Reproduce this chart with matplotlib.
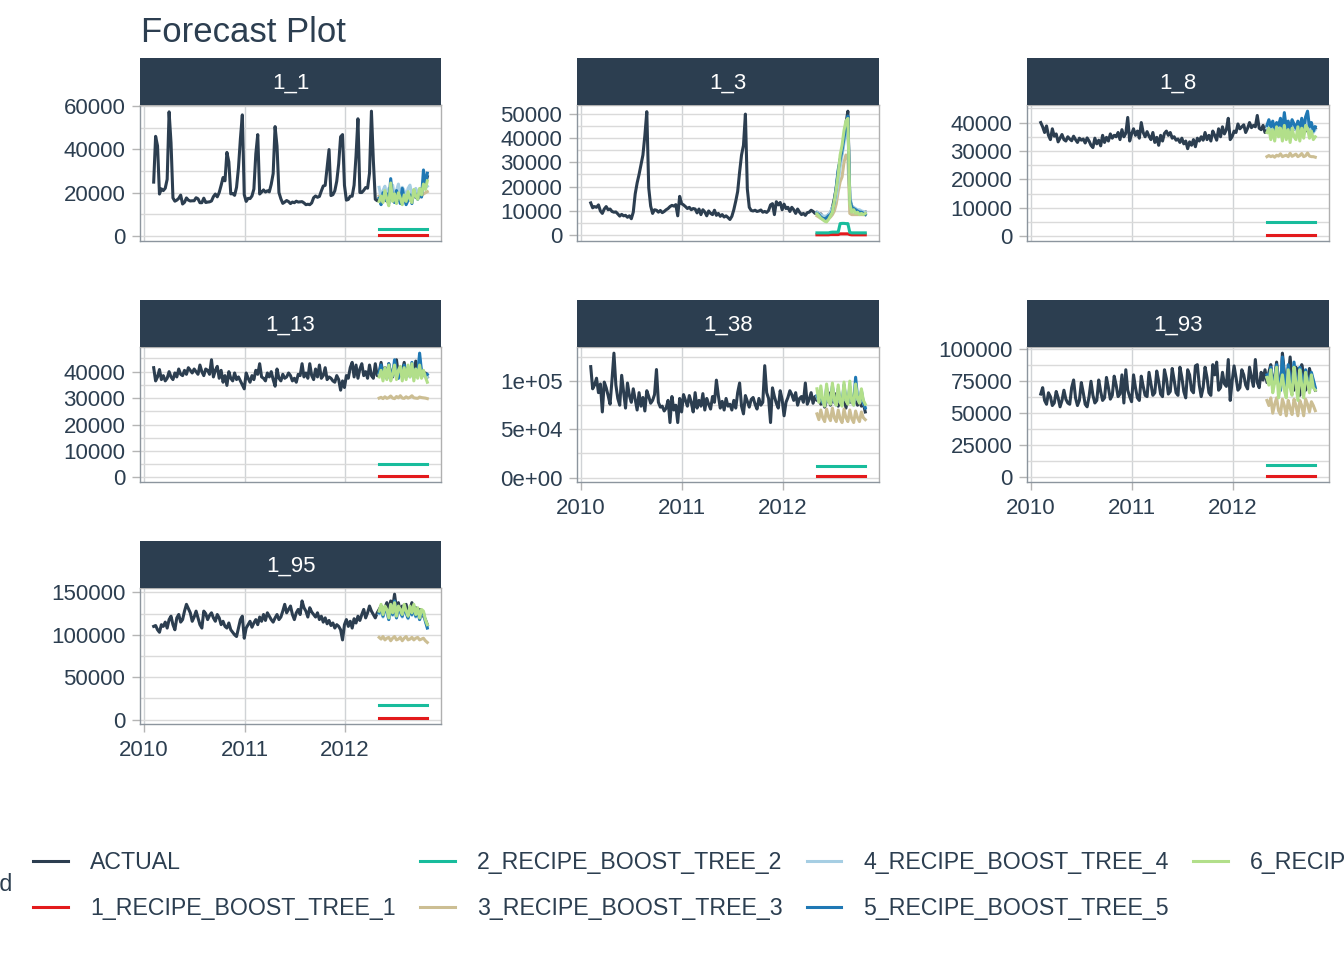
import matplotlib
matplotlib.use("Agg")
import matplotlib.pyplot as plt
import matplotlib.dates as mdates
from matplotlib.lines import Line2D
from matplotlib.ticker import MultipleLocator
import numpy as np
import pandas as pd

plt.rcParams['font.family'] = ['Liberation Sans', 'DejaVu Sans']

DARK = '#2C3E50'
GRID = '#DADADA'

# weekly index of the series and of the forecast (test) window
weeks = pd.date_range('2010-02-05', '2012-10-26', freq='W-FRI')
fc_weeks = pd.date_range('2012-05-04', '2012-10-26', freq='W-FRI')

ids = ['1_1', '1_3', '1_8', '1_13', '1_38', '1_93', '1_95']
models = ['1_RECIPE_BOOST_TREE_1', '2_RECIPE_BOOST_TREE_2', '3_RECIPE_BOOST_TREE_3',
          '4_RECIPE_BOOST_TREE_4', '5_RECIPE_BOOST_TREE_5', '6_RECIPE_BOOST_TREE_6']
model_colors = ['#E31A1C', '#18BC9C', '#CCBE93', '#A6CEE3', '#1F78B4', '#B2DF8A']

# actual weekly sales, thousands
actual = {}
actual['1_1'] = [
    24.9, 46.0, 41.6, 19.4, 21.8, 21.0, 22.1, 26.2, 57.3, 43.0,
    17.6, 16.1, 16.6, 17.4, 18.9, 14.8, 15.6, 17.6, 16.6, 16.2,
    16.3, 16.3, 17.7, 17.2, 15.4, 15.4, 17.5, 15.5, 15.7, 15.8,
    16.2, 18.2, 19.4, 18.1, 20.1, 23.4, 27.0, 25.5, 38.6, 34.2,
    19.5, 19.6, 18.8, 22.5, 31.5, 44.9, 55.9, 19.1, 16.0, 17.4,
    17.3, 18.5, 21.7, 37.9, 46.8, 19.4, 20.3, 21.3, 20.3, 20.9,
    20.4, 23.9, 28.8, 50.5, 41.5, 20.1, 17.2, 15.1, 15.7, 16.4,
    15.9, 15.0, 15.7, 15.4, 16.1, 15.7, 15.8, 15.9, 15.3, 14.5,
    14.7, 14.5, 15.3, 17.7, 18.5, 17.9, 18.3, 20.8, 23.1, 23.4,
    31.6, 39.9, 18.7, 19.1, 20.9, 25.3, 33.3, 45.8, 46.8, 23.4,
    16.6, 16.9, 18.4, 18.4, 23.5, 37.0, 54.1, 20.1, 20.1, 21.1,
    22.4, 22.1, 29.0, 57.6, 34.7, 17.0, 16.3, 17.1, 18.2, 18.5,
    17.0, 16.1, 17.7, 17.6, 16.6, 15.7, 17.8, 16.6, 16.3, 15.7,
    17.1, 16.6, 16.6, 17.0, 18.2, 18.9, 18.0, 17.3, 18.9, 21.9,
    22.8, 24.2, 27.4]
actual['1_3'] = [
    13.3, 11.3, 11.8, 11.5, 12.5, 10.0, 9.0, 10.8, 11.8, 10.5,
    10.8, 9.8, 9.5, 9.6, 8.8, 7.9, 8.6, 8.0, 8.2, 7.4,
    8.0, 6.8, 9.5, 17.0, 21.5, 25.0, 29.0, 33.0, 41.0, 50.8,
    19.5, 12.0, 9.0, 10.5, 10.3, 9.5, 10.2, 9.3, 9.8, 10.5,
    11.0, 11.8, 12.3, 12.0, 12.6, 8.0, 16.0, 13.0, 12.5, 11.8,
    11.0, 11.5, 10.5, 11.0, 10.8, 9.2, 10.8, 8.5, 10.5, 9.6,
    8.0, 10.0, 9.0, 8.5, 10.3, 8.2, 9.0, 7.8, 8.5, 7.5,
    8.0, 7.3, 6.5, 7.8, 10.5, 14.0, 18.0, 26.0, 33.0, 37.0,
    49.8, 19.0, 11.5, 10.2, 10.0, 10.3, 9.8, 10.0, 10.4, 9.5,
    9.8, 9.4, 10.2, 12.5, 13.0, 8.5, 13.8, 12.5, 13.5, 10.5,
    12.8, 11.0, 11.5, 9.8, 11.5, 10.5, 9.0, 10.8, 9.5, 8.5,
    9.0, 8.2, 9.3, 9.5, 10.3, 9.8, 9.0, 9.5, 8.5, 8.8,
    7.5, 7.0, 7.5, 8.5, 9.0, 11.5, 15.0, 19.5, 26.0, 31.0,
    34.0, 40.0, 46.0, 51.0, 14.0, 12.0, 11.0, 10.5, 10.0, 9.8,
    9.5, 9.3, 9.5]
actual['1_8'] = [
    40.0, 38.5, 36.5, 38.8, 35.5, 34.0, 37.8, 35.2, 36.0, 33.2,
    34.5, 35.8, 34.0, 33.5, 35.0, 34.2, 33.6, 35.2, 34.0, 33.0,
    34.5, 33.8, 34.2, 32.8, 34.6, 33.5, 32.0, 31.2, 34.5, 32.5,
    33.8, 31.8, 35.5, 33.0, 34.8, 33.5, 36.0, 34.5, 35.5, 35.0,
    36.5, 34.0, 37.5, 35.0, 36.2, 41.8, 33.5, 36.0, 37.8, 35.5,
    37.0, 34.5, 40.0, 36.5, 35.0, 36.8, 35.2, 34.0, 36.5, 33.0,
    34.8, 32.0, 35.5, 33.5, 36.2, 37.0, 35.5, 36.5, 34.5, 35.0,
    33.8, 34.2, 33.0, 34.5, 32.5, 33.5, 30.8, 33.2, 32.0, 34.0,
    31.5, 34.5, 33.5, 35.0, 33.8, 36.5, 34.0, 35.5, 33.5, 37.0,
    35.5, 33.8, 37.8, 35.0, 38.5, 36.0, 37.5, 41.5, 34.0, 35.0,
    37.0, 36.5, 39.5, 37.8, 38.5, 39.2, 36.5, 38.0, 40.0, 38.2,
    39.0, 38.5, 42.5, 38.0, 37.5, 39.0, 36.5, 38.5, 39.5, 37.5,
    38.0, 36.5, 39.0, 37.0, 38.5, 36.0, 39.5, 37.5, 38.5, 37.0,
    39.0, 38.0, 37.5, 38.5, 37.0, 38.0, 38.5, 37.0, 39.0, 37.5,
    38.0, 37.5, 38.0]
actual['1_13'] = [
    41.5, 36.5, 38.0, 40.8, 37.0, 38.5, 36.5, 37.5, 40.0, 38.0,
    37.0, 39.5, 38.0, 41.0, 39.0, 38.5, 40.5, 39.0, 41.5, 40.5,
    39.5, 41.0, 40.0, 39.0, 42.5, 40.0, 38.5, 41.0, 40.5, 39.0,
    44.5, 38.0, 40.5, 42.0, 37.5, 40.5, 36.0, 38.5, 34.8, 40.0,
    37.5, 36.5, 39.5, 37.0, 38.0, 36.5, 35.0, 33.5, 39.5, 37.5,
    36.0, 38.5, 37.0, 40.5, 39.0, 43.0, 38.0, 37.5, 36.5, 39.5,
    38.0, 40.0, 37.0, 34.5, 41.0, 37.5, 36.5, 39.0, 37.5, 38.0,
    39.5, 38.5, 36.5, 37.5, 36.0, 39.0, 38.5, 43.0, 38.0, 39.5,
    37.5, 43.0, 38.5, 37.0, 41.0, 38.0, 42.5, 37.5, 38.5, 41.5,
    37.0, 38.0, 37.5, 36.5, 36.0, 38.5, 37.0, 33.0, 36.5, 34.0,
    38.5, 37.5, 41.5, 43.5, 38.0, 42.5, 37.5, 41.0, 43.0, 38.5,
    40.0, 37.5, 42.5, 38.5, 37.5, 43.0, 38.5, 39.5, 43.5, 39.0,
    41.5, 38.0, 43.0, 39.5, 38.0, 42.0, 44.5, 38.5, 41.0, 40.0,
    43.5, 38.0, 41.5, 39.5, 42.0, 38.0, 44.0, 39.5, 41.5, 40.0,
    38.5, 39.5, 38.0]
actual['1_38'] = [
    115, 92, 96, 103, 88, 97, 68, 99, 93, 85,
    76, 101, 129, 96, 82, 75, 106, 89, 72, 98,
    85, 78, 92, 81, 70, 88, 74, 83, 69, 90,
    84, 77, 80, 86, 112, 78, 73, 74, 69, 72,
    80, 57, 84, 70, 75, 57, 82, 68, 86, 80,
    74, 85, 78, 68, 88, 72, 80, 74, 87, 70,
    82, 76, 71, 84, 78, 101, 85, 72, 79, 70,
    82, 74, 76, 70, 80, 72, 88, 98, 74, 66,
    85, 79, 73, 81, 83, 76, 71, 82, 75, 78,
    116, 88, 82, 57, 93, 84, 77, 72, 90, 81,
    64, 78, 83, 90, 86, 80, 88, 75, 82, 84,
    78, 98, 76, 81, 88, 77, 84, 80, 86, 76,
    82, 73, 80, 88, 75, 84, 78, 87, 74, 82,
    79, 85, 72, 83, 78, 80, 76, 84, 75, 80,
    74, 77, 68]
actual['1_93'] = [
    65, 70, 60, 57, 66, 63, 56, 58, 67, 62,
    55, 60, 68, 61, 58, 57, 70, 76, 62, 56,
    60, 74, 66, 57, 55, 63, 75, 64, 58, 60,
    76, 67, 60, 62, 78, 70, 61, 64, 79, 72,
    63, 65, 80, 58, 84, 68, 63, 59, 80, 70,
    62, 60, 79, 71, 64, 63, 82, 73, 64, 66,
    83, 75, 65, 63, 84, 77, 65, 67, 85, 76,
    66, 64, 86, 78, 67, 62, 84, 80, 68, 66,
    87, 88, 72, 63, 70, 86, 78, 66, 64, 88,
    80, 90, 68, 70, 82, 73, 71, 92, 60, 75,
    87, 78, 68, 70, 84, 80, 72, 69, 86, 78,
    71, 92, 74, 70, 82, 76, 84, 74, 82, 88,
    70, 78, 90, 75, 68, 97, 82, 70, 78, 94,
    76, 68, 86, 78, 64, 88, 80, 68, 72, 85,
    78, 74, 68]
actual['1_95'] = [
    110, 111, 106, 103, 112, 110, 115, 108, 118, 122,
    112, 106, 120, 124, 115, 118, 128, 136, 131, 126,
    116, 121, 128, 120, 112, 108, 128, 125, 118, 123,
    126, 120, 116, 124, 120, 112, 116, 110, 108, 114,
    106, 103, 100, 98, 108, 118, 122, 96, 108, 112,
    116, 109, 114, 118, 112, 121, 116, 124, 117, 126,
    122, 118, 115, 120, 124, 118, 121, 128, 136, 126,
    130, 134, 124, 118, 126, 130, 124, 140, 132, 128,
    121, 132, 127, 124, 121, 126, 118, 122, 115, 120,
    113, 117, 111, 114, 108, 112, 110, 106, 94, 112,
    118, 110, 116, 108, 119, 114, 122, 117, 124, 130,
    120, 126, 134, 128, 124, 120, 126, 130, 134, 126,
    132, 138, 128, 140, 132, 148, 130, 138, 126, 134,
    128, 136, 122, 130, 138, 126, 132, 124, 130, 126,
    122, 118, 112]

# forecasts over the test window, thousands
# models 1 and 2 are flat except for 1_3
m1_level = {'1_1': 0.6, '1_8': 0.5, '1_13': 0.6, '1_38': 1.7, '1_93': 1.0, '1_95': 2.0}
m2_level = {'1_1': 3.2, '1_8': 5.0, '1_13': 5.0, '1_38': 11.5, '1_93': 9.6, '1_95': 16.8}
m1_1_3 = [0.2, 0.2, 0.2, 0.2, 0.2, 0.2, 0.2, 0.3, 0.3, 0.3, 0.3, 0.3, 0.6,
          0.6, 0.6, 0.6, 0.6, 0.3, 0.2, 0.2, 0.2, 0.2, 0.2, 0.2, 0.2, 0.2]
m2_1_3 = [1.0, 1.0, 1.0, 1.0, 1.0, 1.0, 1.0, 1.2, 1.3, 1.3, 1.3, 1.3, 4.8,
          4.9, 4.9, 4.8, 4.8, 1.2, 1.0, 1.0, 1.0, 1.0, 1.0, 1.0, 1.0, 1.0]

m3 = {
    '1_1': [18.5, 17.0, 18.0, 19.5, 17.5, 18.0, 19.0, 18.5, 17.5, 18.5, 19.0, 17.5, 18.0,
            19.0, 18.0, 17.5, 18.5, 19.0, 18.0, 18.5, 19.5, 18.0, 18.5, 19.5, 20.0, 20.5],
    '1_3': [8.0, 7.5, 7.0, 6.5, 6.0, 6.5, 7.0, 7.5, 8.5, 10.0, 13.0, 18.0, 22.0,
            24.0, 30.0, 33.0, 32.0, 9.0, 8.5, 8.5, 8.5, 8.5, 8.5, 8.5, 8.5, 8.5],
    '1_8': [28.0, 28.4, 28.0, 28.3, 27.8, 28.5, 28.2, 29.0, 28.0, 28.3, 28.5, 28.0, 29.2,
            28.1, 28.5, 28.9, 28.0, 28.4, 29.1, 28.0, 28.3, 29.3, 28.2, 28.0, 28.0, 27.8],
    '1_13': [30.0, 30.3, 29.8, 30.5, 29.9, 30.2, 30.8, 30.0, 29.8, 30.6, 30.1, 30.9, 30.0,
             29.9, 30.5, 30.0, 30.3, 30.9, 30.1, 30.0, 29.9, 30.4, 30.2, 30.1, 30.0, 29.8],
    '1_38': [66, 60, 70, 62, 58, 71, 63, 59, 72, 62, 58, 70, 61,
             57, 71, 62, 58, 70, 61, 57, 69, 62, 58, 68, 62, 60],
    '1_93': [60, 56, 62, 50, 57, 62, 52, 49, 61, 56, 48, 60, 54,
             49, 61, 56, 48, 60, 56, 48, 61, 57, 51, 59, 56, 52],
    '1_95': [97, 95, 98, 94, 96, 97, 93, 96, 98, 94, 95, 97, 93,
             96, 98, 94, 95, 97, 94, 96, 97, 94, 95, 96, 93, 91],
}
m4 = {
    '1_1': [22.5, 17.5, 21.0, 23.0, 18.0, 22.0, 20.5, 23.5, 18.5, 21.0, 24.0, 19.0, 22.5,
            21.0, 17.5, 22.0, 23.5, 19.0, 20.5, 22.0, 19.5, 21.5, 20.0, 22.5, 24.0, 23.0],
    '1_3': [9.5, 9.0, 8.5, 8.0, 7.8, 8.0, 8.5, 9.5, 11.5, 13.0, 16.0, 22.0, 28.0,
            33.0, 38.0, 43.0, 45.0, 16.0, 12.0, 11.5, 11.0, 10.5, 10.5, 10.0, 9.8, 9.5],
    '1_8': [38.0, 39.5, 37.5, 39.0, 37.0, 39.5, 38.0, 40.0, 36.5, 40.5, 37.0, 39.0, 37.0,
            40.0, 38.0, 37.5, 39.5, 36.5, 40.0, 37.0, 40.5, 41.0, 37.0, 39.0, 36.5, 37.5],
    '1_13': [39.0, 41.5, 38.0, 40.5, 37.5, 42.0, 38.5, 38.5, 43.0, 39.5, 37.5, 41.0, 38.0,
             41.5, 38.5, 40.5, 38.0, 42.5, 38.0, 40.5, 38.5, 45.0, 39.5, 39.0, 38.0, 38.0],
    '1_38': [84, 79, 86, 78, 75, 88, 80, 77, 89, 79, 75, 87, 78,
             76, 90, 80, 77, 89, 79, 75, 92, 81, 78, 86, 77, 73],
    '1_93': [78, 75, 84, 70, 75, 86, 71, 68, 90, 77, 69, 86, 73,
             67, 88, 75, 66, 85, 76, 66, 82, 75, 68, 80, 75, 69],
    '1_95': [125, 132, 121, 130, 127, 118, 132, 123, 136, 120, 130, 127, 121,
             132, 125, 119, 130, 123, 132, 121, 128, 118, 127, 125, 116, 110],
}
m5 = {
    '1_1': [17.5, 14.5, 20.0, 16.5, 19.5, 15.0, 26.5, 17.0, 15.5, 21.0, 18.5, 15.0, 22.0,
            17.5, 14.5, 16.5, 19.0, 15.0, 21.0, 18.5, 17.0, 20.5, 18.0, 30.5, 23.0, 29.0],
    '1_3': [9.0, 8.5, 7.5, 7.0, 6.8, 7.2, 8.0, 8.5, 10.0, 14.0, 20.0, 27.0, 31.0,
            35.0, 40.0, 45.0, 49.0, 15.0, 11.5, 11.0, 10.5, 10.0, 9.5, 9.5, 9.0, 8.5],
    '1_8': [39.0, 41.0, 38.5, 40.5, 37.5, 40.0, 39.0, 41.5, 37.0, 43.5, 38.0, 40.5, 37.5,
            41.0, 39.5, 38.0, 40.5, 37.5, 41.5, 38.0, 42.0, 44.0, 38.5, 40.0, 37.0, 38.5],
    '1_13': [39.5, 42.5, 38.5, 41.0, 37.5, 43.0, 39.0, 38.5, 44.5, 40.0, 37.5, 41.5, 38.0,
             42.5, 39.0, 40.5, 38.5, 43.5, 38.0, 41.0, 39.0, 47.0, 40.0, 39.5, 38.5, 39.0],
    '1_38': [85, 80, 88, 78, 76, 93, 82, 78, 95, 80, 76, 92, 79,
             77, 96, 81, 78, 94, 80, 76, 104, 83, 79, 90, 78, 72],
    '1_93': [80, 76, 86, 70, 76, 88, 72, 68, 94, 78, 70, 88, 74,
             68, 90, 76, 66, 86, 78, 66, 84, 76, 68, 82, 76, 70],
    '1_95': [126, 134, 122, 132, 128, 118, 134, 124, 140, 120, 132, 128, 122,
             134, 126, 120, 132, 124, 134, 122, 130, 118, 128, 126, 116, 108],
}
m6 = {
    '1_1': [16.0, 18.5, 15.5, 21.0, 17.0, 14.0, 24.5, 16.0, 19.5, 15.0, 20.0, 17.5, 14.5,
            19.0, 16.0, 20.5, 17.0, 15.5, 21.5, 18.5, 17.0, 22.0, 19.0, 24.0, 21.5, 25.5],
    '1_3': [8.8, 8.0, 7.0, 6.5, 5.8, 5.5, 6.5, 8.0, 9.5, 14.0, 19.0, 25.0, 33.0,
            37.0, 43.0, 47.0, 48.0, 13.0, 9.5, 10.5, 9.0, 9.5, 8.5, 9.0, 8.5, 9.0],
    '1_8': [36.5, 38.0, 34.0, 37.5, 33.5, 38.5, 35.0, 38.0, 33.5, 39.0, 34.0, 37.5, 33.0,
            38.0, 35.0, 34.0, 38.5, 33.5, 38.0, 34.5, 39.0, 38.0, 34.5, 37.0, 34.0, 35.0],
    '1_13': [38.0, 40.5, 36.5, 41.5, 37.0, 42.5, 36.5, 39.0, 42.5, 37.0, 40.5, 42.0, 36.5,
             41.5, 37.0, 42.5, 38.0, 43.0, 36.5, 41.0, 37.5, 42.5, 37.5, 40.5, 38.0, 36.0],
    '1_38': [92, 78, 95, 80, 74, 97, 79, 76, 98, 80, 75, 96, 78,
             74, 99, 80, 76, 100, 79, 75, 97, 82, 77, 92, 80, 76],
    '1_93': [78, 72, 84, 66, 74, 86, 62, 72, 80, 68, 62, 84, 70,
             64, 86, 74, 60, 84, 72, 62, 82, 74, 66, 80, 70, 68],
    '1_95': [128, 136, 124, 134, 130, 120, 136, 126, 138, 122, 134, 130, 124,
             136, 128, 122, 134, 126, 136, 124, 132, 120, 130, 128, 118, 112],
}

# y axis breaks per facet
yticks = {
    '1_1': [0, 20000, 40000, 60000],
    '1_3': [0, 10000, 20000, 30000, 40000, 50000],
    '1_8': [0, 10000, 20000, 30000, 40000],
    '1_13': [0, 10000, 20000, 30000, 40000],
    '1_38': [0, 50000, 100000],
    '1_93': [0, 25000, 50000, 75000, 100000],
    '1_95': [0, 50000, 100000, 150000],
}
ylabels = {
    '1_1': ['0', '20000', '40000', '60000'],
    '1_3': ['0', '10000', '20000', '30000', '40000', '50000'],
    '1_8': ['0', '10000', '20000', '30000', '40000'],
    '1_13': ['0', '10000', '20000', '30000', '40000'],
    '1_38': ['0e+00', '5e+04', '1e+05'],
    '1_93': ['0', '25000', '50000', '75000', '100000'],
    '1_95': ['0', '50000', '100000', '150000'],
}

W, H = 1344, 960
fig = plt.figure(figsize=(W / 100, H / 100), dpi=100)

col_x = [140, 577, 1027]
col_w = [301, 302, 302]
row_top = [105, 347, 588]
row_bot = [241, 482, 724]
strip_h = 47

for i, sid in enumerate(ids):
    r, c = i // 3, i % 3
    x0, w = col_x[c], col_w[c]
    ax = fig.add_axes([x0 / W, 1 - row_bot[r] / H, w / W, (row_bot[r] - row_top[r]) / H])

    ax.plot(weeks, np.array(actual[sid]) * 1000, color=DARK, lw=2.2, zorder=3)

    if sid == '1_3':
        f1, f2 = np.array(m1_1_3), np.array(m2_1_3)
    else:
        f1 = np.full(len(fc_weeks), m1_level[sid])
        f2 = np.full(len(fc_weeks), m2_level[sid])
    fcs = [f1, f2, np.array(m3[sid]), np.array(m4[sid]), np.array(m5[sid]), np.array(m6[sid])]
    for j, f in enumerate(fcs):
        ax.plot(fc_weeks, f * 1000, color=model_colors[j], lw=2.2, zorder=4 + j)

    ax.margins(x=0.05, y=0.05)

    step = yticks[sid][1] - yticks[sid][0]
    ax.set_yticks(yticks[sid])
    ax.set_yticklabels(ylabels[sid])
    ax.yaxis.set_minor_locator(MultipleLocator(step / 2))
    ax.xaxis.set_major_locator(mdates.YearLocator())
    ax.xaxis.set_major_formatter(mdates.DateFormatter('%Y'))
    ax.xaxis.set_minor_locator(mdates.YearLocator())

    ax.grid(True, which='both', axis='y', color=GRID, lw=1.0, zorder=0)
    ax.grid(True, which='major', axis='x', color='#D0D3D6', lw=1.0, zorder=0)
    ax.set_axisbelow(True)
    ax.set_facecolor('white')

    ax.tick_params(axis='y', which='major', length=5.5, width=1, color='#B5B5B5',
                   pad=5, labelsize=16, labelcolor=DARK)
    ax.tick_params(axis='both', which='minor', length=0)
    bottom = i + 3 >= len(ids)
    ax.tick_params(axis='x', which='major', length=5.5 if bottom else 0, width=1,
                   color='#B5B5B5', pad=6, labelsize=16, labelcolor=DARK,
                   labelbottom=bottom)

    for side in ['left', 'bottom']:
        ax.spines[side].set_color('#8C959E')
        ax.spines[side].set_linewidth(1.0)
    for side in ['right', 'top']:
        ax.spines[side].set_color('#B0B0B0')
        ax.spines[side].set_linewidth(1.0)

    # facet strip
    sax = fig.add_axes([x0 / W, 1 - row_top[r] / H, w / W, strip_h / H])
    sax.set_facecolor(DARK)
    sax.set_xticks([])
    sax.set_yticks([])
    for sp in sax.spines.values():
        sp.set_visible(False)
    sax.text(0.5, 0.46, sid, color='white', fontsize=16, ha='center', va='center',
             transform=sax.transAxes)

fig.text(141 / W, 1 - 33 / H, 'Forecast Plot', fontsize=25, color=DARK,
         ha='left', va='center')

# legend at the bottom (runs past both figure edges, as in the original)
handles = [Line2D([], [], color=DARK, lw=2.2)]
handles += [Line2D([], [], color=col, lw=2.2) for col in model_colors]
labels = ['ACTUAL'] + models
fig.legend(handles, labels, ncol=4, loc='upper left',
           bbox_to_anchor=(33 / W, 1 - 851 / H), frameon=False, fontsize=16.7,
           labelcolor=DARK, handlelength=1.5, handletextpad=0.95,
           columnspacing=1.05, labelspacing=0.99, borderpad=0, borderaxespad=0)
fig.text(12 / W, 1 - 885 / H, 'Legend', fontsize=16.7, color=DARK,
         ha='right', va='center')

fig.savefig('out.png', dpi=100, facecolor='white')
